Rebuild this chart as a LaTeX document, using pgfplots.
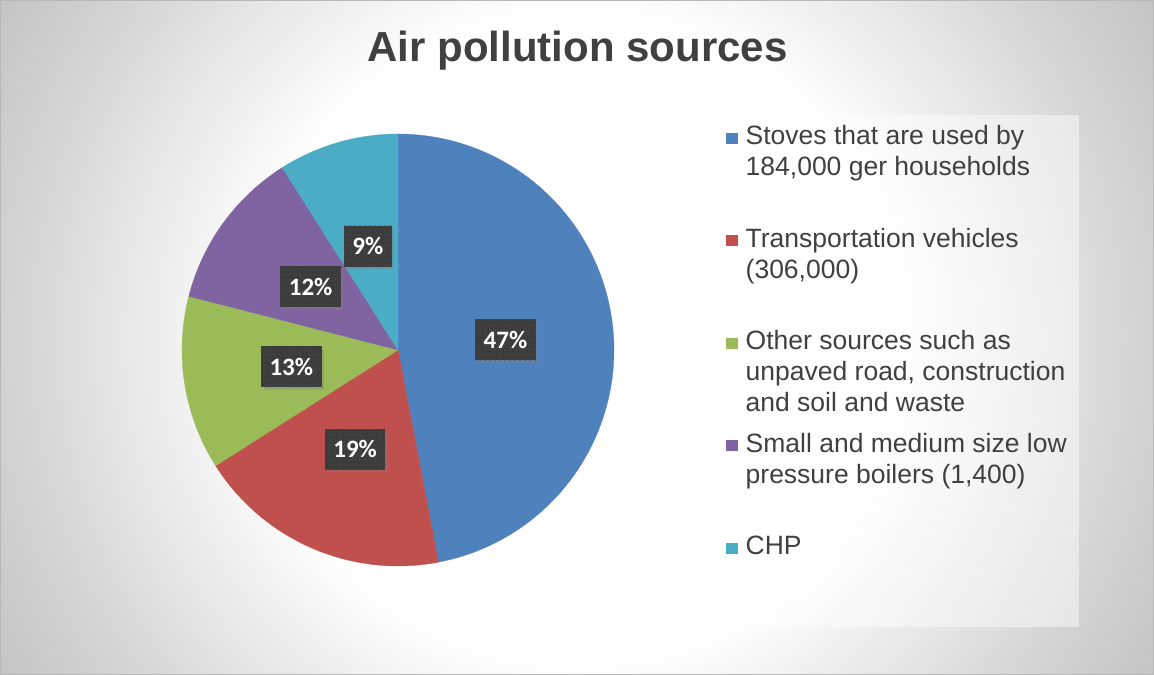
\documentclass[border=0pt]{standalone}
\usepackage{fontspec}
\setmainfont{Liberation Sans}
\newfontfamily\labelfont{Carlito}
\usepackage{pgfplots}
\pgfplotsset{compat=1.18}
\usetikzlibrary{shadows,patterns.meta}

% Office palette
\definecolor{sblue}{HTML}{4F81BD}
\definecolor{sred}{HTML}{C0504D}
\definecolor{sgreen}{HTML}{9BBB59}
\definecolor{spurple}{HTML}{8064A2}
\definecolor{scyan}{HTML}{4BACC6}
\definecolor{txtgray}{HTML}{404040}
\definecolor{labelbg}{HTML}{3C3C3C}

% soft radial backdrop: white centre, grey corners
% (TikZ maps the path's bounding box onto the inner 50bp of the shading)
\pgfdeclareradialshading{chartbg}{\pgfpoint{0bp}{0bp}}{%
  color(0bp)=(white); color(12bp)=(white); color(21.6bp)=(black!18);
  color(25bp)=(black!23); color(50bp)=(black!23)}

% dotted texture of the data-label boxes
\tikzdeclarepattern{
  name=labeldots,
  type=uncolored,
  bounding box={(-2.5bp,-2.5bp) and (2.5bp,2.5bp)},
  tile size={(5bp,5bp)},
  code={\pgfpathcircle{\pgfpointorigin}{1bp}\pgfusepath{fill}}
}

\tikzset{
  slicelabel/.style={
    fill=labelbg, text=white,
    font=\labelfont\bfseries\fontsize{25bp}{30bp}\selectfont,
    inner xsep=8.5bp, inner ysep=0pt, minimum height=41bp,
    postaction={pattern={labeldots}, pattern color=white!28!black},
    drop shadow={shadow xshift=2.5bp, shadow yshift=-2.5bp, opacity=0.35}},
  legendtext/.style={anchor=base west, inner sep=0pt, text=txtgray,
    font=\fontsize{26.5bp}{31bp}\selectfont}
}

% one wedge per share (percent), clockwise from 12 o'clock
\newcommand\cumshare{0}
\newcommand\pieslice[2]{%
  \pgfmathsetmacro\angA{90-3.6*\cumshare}%
  \pgfmathsetmacro\angB{90-3.6*(\cumshare+#1)}%
  \edef\doslice{\noexpand\addplot[fill=#2, draw=#2, line width=0.3pt,
      domain=\angB:\angA, samples=120] ({cos(x)},{sin(x)}) -- (0,0) -- cycle;}%
  \doslice
  \pgfmathsetmacro\cumshare{\cumshare+#1}%
  \xdef\cumshare{\cumshare}%
}
% the matching value label, half-way out along the wedge's middle
\newcommand\cumlabel{0}
\newcommand\pielabel[1]{%
  \pgfmathsetmacro\angM{90-3.6*(\cumlabel+#1/2)}%
  \edef\dolabel{\noexpand\node[slicelabel] at (axis cs:{0.5*cos(\angM)},{0.5*sin(\angM)}) {#1\noexpand\%};}%
  \dolabel
  \pgfmathsetmacro\cumlabel{\cumlabel+#1}%
  \xdef\cumlabel{\cumlabel}%
}

\begin{document}
\begin{tikzpicture}[x=1bp,y=1bp]
\useasboundingbox (0,0) rectangle (1154,675);
\begin{scope}
  \clip (0,0) rectangle (1154,675);
  \shade[shading=chartbg] (577,337.5) circle (668);
\end{scope}
\draw[black!28, line width=1bp] (0.5,0.5) rectangle (1153.5,674.5);

% title
\node[anchor=base, inner sep=0pt, text=txtgray,
      font=\bfseries\fontsize{42bp}{50bp}\selectfont] at (577.5,613.3) {Air pollution sources};

\begin{axis}[
  hide axis, clip=false,
  scale only axis, width=432bp, height=432bp,
  xmin=-1, xmax=1, ymin=-1, ymax=1,
  at={(182bp,109bp)}, anchor=south west,
]
  \pieslice{47}{sblue}
  \pieslice{19}{sred}
  \pieslice{13}{sgreen}
  \pieslice{12}{spurple}
  \pieslice{9}{scyan}
  \pielabel{47}
  \pielabel{19}
  \pielabel{13}
  \pielabel{12}
  \pielabel{9}
\end{axis}

% legend
\fill[white, fill opacity=0.45] (713,48) rectangle (1079,560);
\fill[sblue]   (726,531) rectangle (738,542);
\node[legendtext] at (745.5,530) {Stoves that are used by};
\node[legendtext] at (745.5,499) {184,000 ger households};
\fill[sred]    (726,428.5) rectangle (738,439.5);
\node[legendtext] at (745.5,427.5) {Transportation vehicles};
\node[legendtext] at (745.5,396.5) {(306,000)};
\fill[sgreen]  (726,326) rectangle (738,337);
\node[legendtext] at (745.5,325) {Other sources such as};
\node[legendtext] at (745.5,294) {unpaved road, construction};
\node[legendtext] at (745.5,263) {and soil and waste};
\fill[spurple] (726,223.5) rectangle (738,234.5);
\node[legendtext] at (745.5,222.5) {Small and medium size low};
\node[legendtext] at (745.5,191.5) {pressure boilers (1,400)};
\fill[scyan]   (726,121) rectangle (738,132);
\node[legendtext] at (745.5,120) {CHP};
\end{tikzpicture}
\end{document}
